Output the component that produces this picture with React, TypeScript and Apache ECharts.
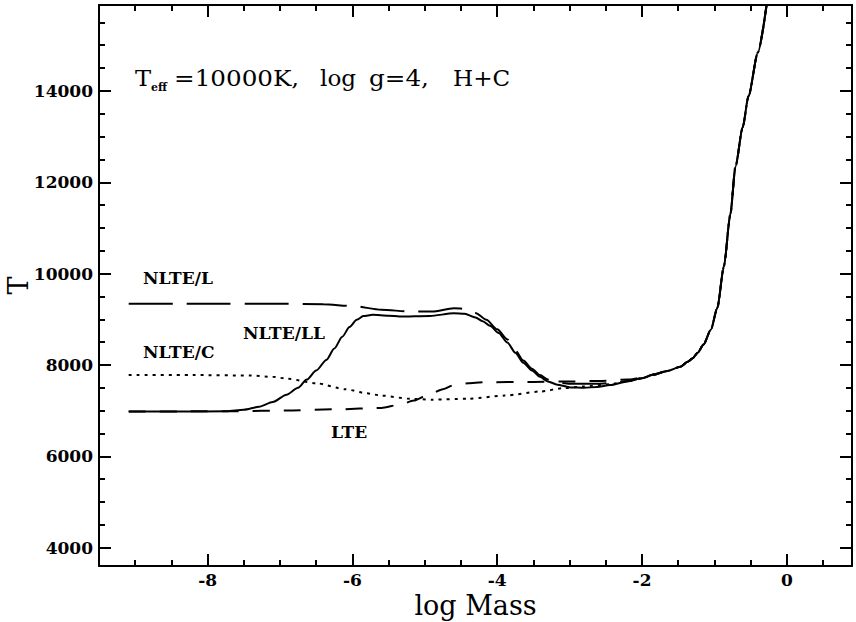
import React, { useEffect, useRef } from "react";
import * as echarts from "echarts";

// log Mass (x) and temperature T (y)
const nlteLL: number[][] = [
  [-9.09, 6980], [-8.4, 6980], [-7.74, 6985], [-7.5, 7020], [-7.29, 7085], [-7.1, 7190], [-6.91, 7350],
  [-6.75, 7500], [-6.63, 7680], [-6.5, 7880], [-6.36, 8110], [-6.25, 8360], [-6.14, 8620], [-6.04, 8830],
  [-5.94, 8990], [-5.85, 9070], [-5.72, 9100], [-5.5, 9080], [-5.35, 9060], [-4.93, 9075],
  [-4.6, 9130], [-4.45, 9120], [-4.3, 9040], [-4.2, 8960], [-4.1, 8860], [-3.98, 8700], [-3.86, 8490],
  [-3.75, 8270], [-3.64, 8050], [-3.52, 7880], [-3.41, 7740], [-3.3, 7640], [-3.17, 7570], [-2.99, 7510],
  [-2.8, 7500], [-2.62, 7520], [-2.44, 7560], [-2.2, 7640], [-2.0, 7710], [-1.84, 7790], [-1.65, 7870],
  [-1.47, 7960], [-1.37, 8070], [-1.3, 8150], [-1.23, 8270], [-1.15, 8450], [-1.05, 8770], [-0.96, 9250],
  [-0.87, 10150], [-0.78, 11300], [-0.71, 12340], [-0.61, 13200], [-0.53, 13880], [-0.4, 14840], [-0.28, 15880],
];
const nlteL: number[][] = [
  [-9.09, 9340], [-8.0, 9340], [-7.0, 9340], [-6.4, 9330], [-6.0, 9290], [-5.6, 9210], [-5.2, 9170],
  [-4.9, 9170], [-4.6, 9240], [-4.42, 9230], [-4.3, 9140], [-4.15, 8990], [-4.0, 8780], [-3.86, 8560],
  [-3.75, 8320], [-3.64, 8100], [-3.52, 7920], [-3.41, 7780], [-3.3, 7680], [-3.2, 7620], [-3.0, 7590],
  [-2.62, 7590], [-2.44, 7600], [-2.2, 7650], [-2.0, 7710], [-1.84, 7790], [-1.65, 7870],
  [-1.47, 7960], [-1.37, 8070], [-1.3, 8150], [-1.23, 8270], [-1.15, 8450], [-1.05, 8770], [-0.96, 9250],
  [-0.87, 10150], [-0.78, 11300], [-0.71, 12340], [-0.61, 13200], [-0.53, 13880], [-0.4, 14840], [-0.28, 15880],
];
const nlteC: number[][] = [
  [-9.09, 7780], [-8.2, 7780], [-7.4, 7770], [-7.1, 7740], [-6.9, 7700], [-6.5, 7600], [-6.1, 7470],
  [-5.8, 7380], [-5.6, 7330], [-5.2, 7260], [-4.9, 7240], [-4.4, 7260], [-3.9, 7330], [-3.4, 7420],
  [-3.1, 7490], [-2.8, 7530], [-2.44, 7580], [-2.2, 7645], [-2.0, 7710], [-1.84, 7790], [-1.65, 7870],
  [-1.47, 7960], [-1.37, 8070], [-1.3, 8150], [-1.23, 8270], [-1.15, 8450], [-1.05, 8770], [-0.96, 9250],
  [-0.87, 10150], [-0.78, 11300], [-0.71, 12340], [-0.61, 13200], [-0.53, 13880], [-0.4, 14840], [-0.28, 15880],
];
const lte: number[][] = [
  [-9.09, 6980], [-8.3, 6985], [-7.6, 6990], [-6.9, 7005], [-6.2, 7030], [-5.6, 7060], [-5.35, 7130],
  [-5.15, 7220], [-4.95, 7350], [-4.75, 7470], [-4.6, 7560], [-4.4, 7600], [-4.2, 7620], [-3.5, 7630],
  [-3.0, 7640], [-2.6, 7650], [-2.2, 7680], [-2.0, 7720], [-1.84, 7790], [-1.65, 7870],
  [-1.47, 7960], [-1.37, 8070], [-1.3, 8150], [-1.23, 8270], [-1.15, 8450], [-1.05, 8770], [-0.96, 9250],
  [-0.87, 10150], [-0.78, 11300], [-0.71, 12340], [-0.61, 13200], [-0.53, 13880], [-0.4, 14840], [-0.28, 15880],
];

const xMajorTicks = [-8, -6, -4, -2, 0];
const xMinorTicks = [-9, -8.5, -7.5, -7, -6.5, -5.5, -5, -4.5, -3.5, -3, -2.5, -1.5, -1, -0.5, 0.5];
const yMajorTicks = [4000, 6000, 8000, 10000, 12000, 14000];
const yMinorTicks = [4500, 5000, 5500, 6500, 7000, 7500, 8500, 9000, 9500, 10500, 11000, 11500, 12500, 13000, 13500, 14500, 15000, 15500];

const X_MIN = -9.5, X_MAX = 0.9, Y_MIN = 3600, Y_MAX = 15880;
const FONT = "DejaVu Serif";

export default function App() {
  const ref = useRef<HTMLDivElement>(null);
  useEffect(() => {
    if (!ref.current) return;
    const chart = echarts.init(ref.current, undefined, { renderer: "svg" });
    const lineStyleAxis = { color: "#000", width: 2 };
    const mkX = (pos: string, major: boolean, main: boolean) => ({
      type: "value", position: pos, min: X_MIN, max: X_MAX,
      axisLine: { show: main, onZero: false, lineStyle: lineStyleAxis },
      axisTick: { show: true, inside: true, length: major ? 12 : 6, customValues: major ? xMajorTicks : xMinorTicks, lineStyle: { color: "#000", width: 2 } },
      axisLabel: pos === "bottom" && major ? { show: true, customValues: xMajorTicks, margin: 6, lineHeight: 15, color: "#000", fontFamily: FONT, fontWeight: "bold", fontSize: 17, formatter: (v: number) => String(v) } : { show: false },
      splitLine: { show: false },
      ...(pos === "bottom" && major ? { name: "log Mass", nameLocation: "middle", nameGap: 28, nameMoveOverlap: false, nameTextStyle: { color: "#000", fontFamily: FONT, fontSize: 27, lineHeight: 22 } } : {}),
    });
    const mkY = (pos: string, major: boolean, main: boolean) => ({
      type: "value", position: pos, min: Y_MIN, max: Y_MAX,
      axisLine: { show: main, onZero: false, lineStyle: lineStyleAxis },
      axisTick: { show: true, inside: true, length: major ? 12 : 6, customValues: major ? yMajorTicks : yMinorTicks, lineStyle: { color: "#000", width: 2 } },
      axisLabel: pos === "left" && major ? { show: true, customValues: yMajorTicks, margin: 6, color: "#000", fontFamily: FONT, fontWeight: "bold", fontSize: 17, formatter: (v: number) => String(v) } : { show: false },
      splitLine: { show: false },
      ...(pos === "left" && major ? { name: "T", nameLocation: "middle", nameGap: 67, nameMoveOverlap: false, nameTextStyle: { color: "#000", fontFamily: FONT, fontSize: 27 } } : {}),
    });
    const baseSeries = { type: "line", symbol: "none", smooth: 0.25, smoothMonotone: "x", xAxisIndex: 0, yAxisIndex: 0, clip: true };
    const textEl = (t: string, x: number, y: number, size: number, bold: boolean, sx = 1) => ({
      type: "text", x, y, scaleX: sx, style: { text: t, fill: "#000", font: `${bold ? "bold " : ""}${size}px "${FONT}"`, textVerticalAlign: "middle" },
    });
    chart.setOption({
      animation: false,
      backgroundColor: "#fff",
      grid: { left: 99, right: 4, top: 5, bottom: 56, containLabel: false, outerBoundsMode: "none" },
      xAxis: [mkX("bottom", true, true), mkX("bottom", false, false), mkX("top", true, true), mkX("top", false, false)],
      yAxis: [mkY("left", true, true), mkY("left", false, false), mkY("right", true, true), mkY("right", false, false)],
      series: [
        { ...baseSeries, name: "NLTE/LL", data: nlteLL, lineStyle: { color: "#000", width: 2 }, z: 5 },
        { ...baseSeries, name: "NLTE/L", data: nlteL, lineStyle: { color: "#000", width: 2, type: [44, 14] } },
        { ...baseSeries, name: "NLTE/C", data: nlteC, lineStyle: { color: "#000", width: 2, type: [3, 5] } },
        { ...baseSeries, name: "LTE", data: lte, lineStyle: { color: "#000", width: 2, type: [17, 14] } },
      ],
      graphic: [
        textEl("T", 135, 78, 22, false, 1.1),
        textEl("eff", 151, 87, 11, true),
        textEl("=10000K,", 174, 78, 22, false, 1.12),
        textEl("log", 320, 78, 22, false, 1.05),
        textEl("g=4,", 369, 78, 22, false, 1.12),
        textEl("H+C", 453, 78, 22, false, 1.05),
        textEl("NLTE/L", 143, 278, 17, true),
        textEl("NLTE/C", 143, 352, 17, true),
        textEl("NLTE/LL", 243, 333, 17, true),
        textEl("LTE", 331, 432, 17, true),
      ],
    });
    return () => chart.dispose();
  }, []);
  return <div ref={ref} style={{ width: 856, height: 622, position: "absolute", left: 0, top: 0 }} />;
}
